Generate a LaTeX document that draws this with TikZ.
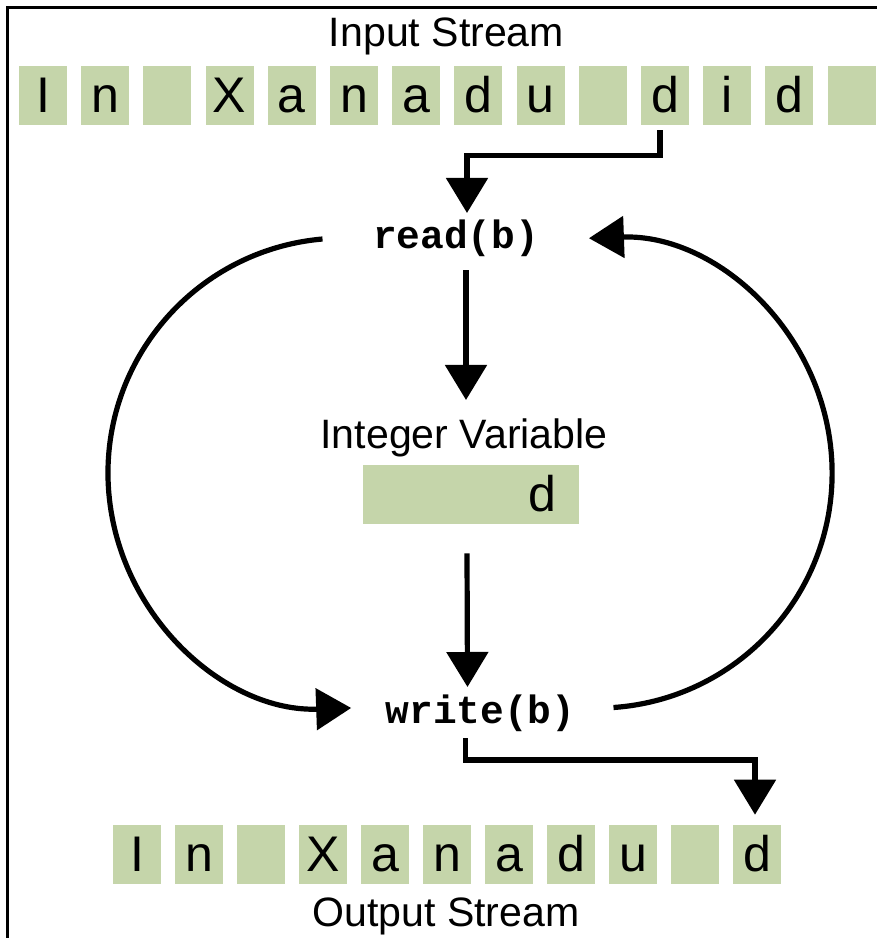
\documentclass[tikz,border=0pt]{standalone}
\usepackage{fontspec}
\setmainfont{Liberation Sans}
\setmonofont{Liberation Mono}
\usetikzlibrary{arrows.meta,calc}
\definecolor{cellgreen}{RGB}{197,213,170}

\begin{document}
\begin{tikzpicture}[x=0.025cm, y=-0.025cm,
  cell/.style={fill=cellgreen, minimum width=1.2cm, minimum height=1.475cm, inner sep=0pt,
    text height=0.9cm, text depth=0.075cm, font=\fontsize{35.6}{40}\selectfont},
  heading/.style={font=\fontsize{29.2}{34}\selectfont, inner sep=0pt},
  code/.style={font=\fontsize{28.1}{32}\selectfont\ttfamily\bfseries, inner sep=0pt},
  flow/.style={line width=0.13cm, -{Triangle[length=0.875cm,width=1.025cm]}}]

\useasboundingbox (0,0) rectangle (877,938);
\draw[line width=0.075cm] (7.5,938) -- (7.5,7.5) -- (877,7.5);

\node[heading, anchor=base] (instream) at (446.5,47) {Input Stream};

\node[cell] (in0) at (43,95.5) {I};
\node[cell] (in1) at (105.2,95.5) {n};
\node[cell] (in2) at (167.4,95.5) {};
\node[cell] (in3) at (229.6,95.5) {X};
\node[cell] (in4) at (291.8,95.5) {a};
\node[cell] (in5) at (354,95.5) {n};
\node[cell] (in6) at (416.2,95.5) {a};
\node[cell] (in7) at (478.4,95.5) {d};
\node[cell] (in8) at (540.6,95.5) {u};
\node[cell] (in9) at (602.8,95.5) {};
\node[cell] (in10) at (665,95.5) {d};
\node[cell] (in11) at (727.2,95.5) {i};
\node[cell] (in12) at (789.4,95.5) {d};
\node[cell] (in13) at (851.6,95.5) {};

\node[code, anchor=base] (read) at (456,248) {read(b)};

\node[heading, anchor=base] (varname) at (464,448) {Integer Variable};
\node[cell, minimum width=5.4cm, text width=4.275cm, align=right] (var) at (471,494.5) {d};

\node[code, anchor=base] (write) at (480.5,723) {write(b)};

\node[cell] (out0) at (137,854.5) {I};
\node[cell] (out1) at (199,854.5) {n};
\node[cell] (out2) at (261,854.5) {};
\node[cell] (out3) at (323,854.5) {X};
\node[cell] (out4) at (385,854.5) {a};
\node[cell] (out5) at (447,854.5) {n};
\node[cell] (out6) at (509,854.5) {a};
\node[cell] (out7) at (571,854.5) {d};
\node[cell] (out8) at (633,854.5) {u};
\node[cell] (out9) at (695,854.5) {};
\node[cell] (out10) at (757,854.5) {d};

\node[heading, anchor=base] (outstream) at (446,926) {Output Stream};

\draw[flow] ([shift={(-5,5)}]in10.south) -- ++(0,25) -| ($(read.base)+(11,-35)$);
\draw[flow] ($(read.base)+(10,22)$) -- ($(varname.base)+(2,-48)$);
\draw[flow] ($(var.south)+(-4,29)$) -- ($(write.base)+(-13,-36)$);
\draw[flow] ($(write.base)+(-15,15)$) -- ++(0,22) -| ($(out10.north)+(-2,-10)$);
\draw[flow] ($(read.base)+(-133.5,-9)$) arc[start angle=265, end angle=88, radius=235];
\draw[flow] ($(write.base)+(133,-15.5)$) arc[start angle=86, end angle=-92, radius=235];

\end{tikzpicture}
\end{document}
